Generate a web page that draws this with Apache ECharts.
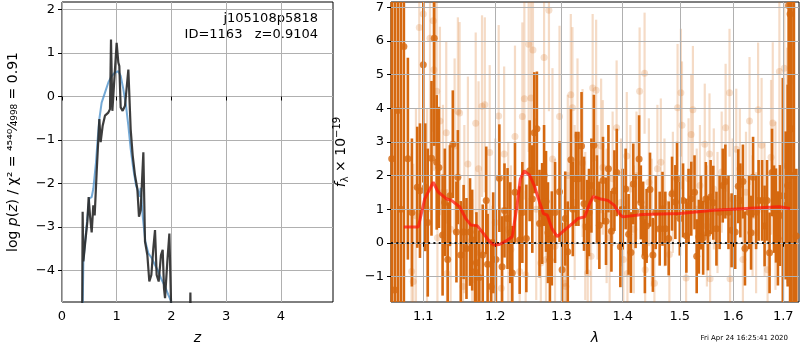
<!DOCTYPE html>
<html lang="en">
<head>
<meta charset="UTF-8">
<title>p(z) / spectrum</title>
<script src="https://cdn.jsdelivr.net/npm/echarts@6/dist/echarts.min.js"></script>
<style>
    html, body { margin: 0; padding: 0; background: #fff; }
    #main { width: 800px; height: 350px; }
</style>
</head>
<body>
<div id="main"></div>
<script type="text/javascript">
// ---- left panel: log p(z)
var zBlack = [0.365, 0.377, 0.390, 0.426, 0.463, 0.487, 0.511, 0.542, 0.572, 0.597, 0.633, 0.682, 0.706, 0.743, 0.785, 0.846, 0.877, 0.895, 0.920, 0.956, 0.998, 1.029, 1.047, 1.072, 1.108, 1.151, 1.212, 1.254, 1.291, 1.333, 1.376, 1.406, 1.437, 1.467, 1.486, 1.516, 1.559, 1.595, 1.632, 1.668, 1.699, 1.729, 1.766, 1.808, 1.839, 1.863, 1.882, 1.924, 1.961, 1.991, 2.0, 2.33, 2.345, 2.36];
var pBlack = [-6, -2.65, -3.79, -3.33, -2.88, -2.31, -2.73, -3.12, -2.50, -2.73, -1.74, -0.52, -1.05, -0.67, -0.44, -0.37, -0.29, 1.31, -0.33, -0.37, 1.23, 0.78, 0.70, -0.25, -0.33, -0.21, 0.62, -0.75, -1.35, -1.81, -2.12, -2.76, -2.61, -2.57, -1.28, -3.33, -3.64, -4.25, -4.10, -3.49, -3.07, -4.10, -4.25, -3.64, -3.52, -4.40, -4.63, -3.79, -3.15, -4.70, -6, -6, -4.50, -6];
var zBlue = [0.365, 0.390, 0.451, 0.499, 0.542, 0.572, 0.621, 0.652, 0.682, 0.724, 0.785, 0.846, 0.907, 0.968, 1.029, 1.072, 1.120, 1.169, 1.212, 1.254, 1.303, 1.352, 1.394, 1.420, 1.437, 1.473, 1.522, 1.577, 1.638, 1.699, 1.760, 1.820, 1.880, 1.940, 1.991, 2.02];
var pBlue = [-6, -3.79, -2.95, -2.34, -2.31, -2.12, -1.51, -0.98, -0.52, -0.14, 0.09, 0.32, 0.47, 0.55, 0.58, 0.47, 0.17, -0.21, -0.67, -1.20, -1.66, -2.04, -2.19, -2.30, -2.10, -2.73, -3.33, -3.60, -3.71, -3.87, -4.02, -4.21, -4.36, -4.55, -4.70, -5.2];
var zTicks = [0, 1, 2, 3, 4];
var pTicks = [-4, -3, -2, -1, 0, 1, 2];

// ---- right panel: spectrum, rows are [lambda, flux, error]
var darkPts = [
    [1.0588, 2.5, 9], [1.0627, -1.4, 9], [1.0666, 3.93, 9], [1.0705, 1.0, 9], [1.0745, 5.83, 9],
    [1.0797, 2.5, 3.0], [1.0850, 0.9, 2.2], [1.0920, 1.65, 1.8], [1.0956, 1.55, 2.0], [1.1000, 5.29, 3.5],
    [1.1027, 1.65, 1.9], [1.1060, 0.6, 2.2], [1.1110, 2.51, 2.3], [1.1147, 6.08, 3.2], [1.1180, 2.39, 2.0],
    [1.1210, 2.24, 1.8], [1.1260, 0.23, 1.8], [1.1290, 1.2, 1.6], [1.1330, -0.5, 1.7], [1.1360, 1.4, 1.5],
    [1.1400, 2.93, 1.6], [1.1450, 0.32, 1.5], [1.1470, 1.95, 1.4], [1.1510, -0.36, 1.6], [1.1550, 0.32, 1.4],
    [1.1590, -0.17, 1.5], [1.1640, 0.32, 1.6], [1.1670, 0.08, 1.5], [1.1710, -0.86, 1.4], [1.1730, -0.59, 1.5],
    [1.1770, -1.03, 1.4], [1.1820, -0.36, 1.5], [1.1870, 1.26, 1.6], [1.1890, -0.64, 1.5], [1.1940, -1.3, 1.4],
    [1.1970, 0.0, 1.5], [1.2010, -0.5, 1.5], [1.2060, 1.92, 1.6], [1.2100, -0.71, 1.5], [1.2135, 0.96, 1.4],
    [1.2180, 0.72, 1.5], [1.2220, 0.3, 1.5], [1.2250, -0.9, 1.4], [1.2290, 1.5, 1.5], [1.2360, 0.08, 1.6],
    [1.2400, 0.9, 1.5], [1.2460, 0.13, 1.6], [1.2510, 2.14, 1.5], [1.2550, 1.3, 1.6], [1.2580, 3.27, 1.8],
    [1.2620, 3.39, 1.7], [1.2660, 0.57, 1.6], [1.2700, 0.87, 1.5], [1.2730, 2.0, 1.5], [1.2760, 1.23, 1.5],
    [1.2790, 0.3, 1.5], [1.2820, -0.51, 1.5], [1.2850, 0.13, 1.4], [1.2900, 0.9, 1.5], [1.2970, 1.52, 1.5],
    [1.3010, -0.8, 1.4], [1.3060, 0.72, 1.4], [1.3100, -0.27, 1.5], [1.3150, 2.47, 1.5], [1.3180, 1.0, 1.4],
    [1.3230, 1.9, 1.4], [1.3270, 1.9, 1.4], [1.3320, 2.88, 1.6], [1.3360, 1.16, 1.4], [1.3410, 0.47, 1.4],
    [1.3440, 0.9, 1.3], [1.3480, 1.7, 1.4], [1.3520, 2.9, 1.5], [1.3570, 1.3, 1.3], [1.3610, 0.52, 1.3],
    [1.3670, 1.85, 1.3], [1.3720, 0.64, 1.3], [1.3760, 2.2, 1.3], [1.3810, 0.34, 1.2], [1.3860, 1.55, 1.2],
    [1.3900, 2.09, 1.3], [1.3960, -0.12, 1.2], [1.4000, 1.0, 1.2], [1.4050, 1.6, 1.2], [1.4100, 0.25, 1.2],
    [1.4140, -0.29, 1.2], [1.4180, 1.75, 1.2], [1.4220, 0.94, 1.1], [1.4280, 2.49, 1.3], [1.4310, 1.2, 1.1],
    [1.4350, 0.72, 1.1], [1.4380, -0.4, 1.1], [1.4410, 0.5, 1.1], [1.4470, 1.58, 1.1], [1.4520, -0.36, 1.1],
    [1.4570, 0.91, 1.1], [1.4640, 0.42, 1.1], [1.4690, 1.01, 1.1], [1.4740, 0.42, 1.1], [1.4800, 0.13, 1.1],
    [1.4860, 1.46, 1.1], [1.4920, 1.21, 1.1], [1.4950, 1.9, 1.1], [1.5000, 0.72, 1.1], [1.5060, 1.26, 1.1],
    [1.5120, 0.21, 1.1], [1.5160, 1.1, 1.1], [1.5210, 1.31, 1.1], [1.5270, 1.5, 1.1], [1.5310, -0.4, 1.1],
    [1.5350, 0.18, 1.1], [1.5390, 0.9, 1.1], [1.5430, 0.15, 1.1], [1.5480, 1.3, 1.1], [1.5520, 0.28, 1.1],
    [1.5570, 1.36, 1.1], [1.5620, 1.19, 1.1], [1.5680, 0.42, 1.1], [1.5740, 0.91, 1.1], [1.5800, 1.7, 1.1],
    [1.5850, 1.82, 1.1], [1.5910, 0.91, 1.1], [1.5970, 0.37, 1.1], [1.6040, 0.32, 1.1], [1.6100, 1.68, 1.1],
    [1.6140, 1.26, 1.1], [1.6190, 1.82, 1.1], [1.6230, -0.17, 1.1], [1.6310, 0.91, 1.1], [1.6350, 0.3, 1.1],
    [1.6390, 1.95, 1.2], [1.6450, 0.91, 1.1], [1.6500, 1.26, 1.2], [1.6570, 1.26, 1.2], [1.6620, 0.5, 1.2],
    [1.6670, 1.26, 1.2], [1.6720, -0.3, 1.2], [1.6770, 2.09, 1.3], [1.6810, 1.0, 1.3], [1.6850, 0.81, 1.4],
    [1.6890, 0.13, 1.4], [1.6930, 0.81, 1.5], [1.6990, 1.4, 3.5], [1.7050, 1.11, 2.2], [1.7090, 1.7, 3.0],
    [1.7110, 7.05, 5], [1.7140, 6.8, 9], [1.7170, 3.39, 9], [1.7220, 2.0, 9], [1.7270, 0.2, 2.0]
];
var lightPts = [
    [1.0846, -0.85, 3.5], [1.0868, -1.15, 3.5], [1.0903, 0.8, 3.2], [1.0947, 6.4, 3.5], [1.1000, 6.8, 3.5],
    [1.1050, 1.0, 3.0], [1.1090, 6.08, 3.5], [1.1133, 6.6, 3.3], [1.1142, 5.14, 3.0], [1.1180, 4.5, 3.0],
    [1.1190, 0.15, 2.6], [1.1224, 3.62, 2.8], [1.1265, 1.5, 2.6], [1.1310, 3.27, 2.7], [1.1320, -0.91, 2.5],
    [1.1370, 0.4, 2.5], [1.1425, 2.88, 2.6], [1.1470, 3.9, 2.8], [1.1494, 3.86, 2.7], [1.1540, -1.3, 2.5],
    [1.1560, 1.0, 2.5], [1.1610, 2.34, 2.6], [1.1670, -1.1, 2.4], [1.1720, 3.55, 2.7], [1.1760, 2.2, 2.6],
    [1.1780, -0.3, 2.4], [1.1810, 4.06, 2.7], [1.1850, 4.1, 2.6], [1.1920, 2.68, 2.6], [1.1960, -1.4, 2.5],
    [1.2000, 0.6, 2.5], [1.2050, 3.77, 2.7], [1.2090, -1.35, 2.4], [1.2130, 2.64, 2.6], [1.2190, 0.4, 2.6],
    [1.2230, -0.2, 2.5], [1.2290, 3.16, 2.7], [1.2360, -0.85, 2.5], [1.2400, 3.75, 2.8], [1.2430, 4.28, 3.0],
    [1.2450, -0.95, 2.5], [1.2495, 5.9, 3.2], [1.2530, 4.3, 3.0], [1.2560, 5.73, 3.0], [1.2610, 1.0, 2.7],
    [1.2680, -0.6, 2.7], [1.2730, 5.51, 3.0], [1.2760, -0.5, 2.6], [1.2805, 6.91, 3.0], [1.2860, 2.49, 2.7],
    [1.2900, -0.1, 2.6], [1.2970, 3.75, 2.7], [1.3050, -1.2, 2.6], [1.3070, -1.3, 2.5], [1.3100, 2.0, 2.4],
    [1.3148, 4.4, 2.4], [1.3174, 4.01, 2.4], [1.3210, 1.2, 2.3], [1.3255, 3.18, 2.3], [1.3336, 2.37, 2.2],
    [1.3380, 0.5, 2.2], [1.3420, -0.9, 2.1], [1.3474, -0.4, 2.1], [1.3500, 4.6, 2.2], [1.3557, 4.53, 2.1],
    [1.3580, 1.5, 2.0], [1.3639, 2.88, 2.0], [1.3667, 2.24, 2.0], [1.3730, 0.8, 2.0], [1.3780, 0.15, 2.0],
    [1.3830, 1.9, 2.0], [1.3897, 3.42, 2.0], [1.3970, 1.2, 1.9], [1.4010, -0.5, 1.9], [1.4069, 2.58, 1.9],
    [1.4080, -0.91, 1.9], [1.4130, 1.6, 1.9], [1.4190, 0.4, 1.9], [1.4235, 2.0, 1.9], [1.4289, 4.5, 1.9],
    [1.4375, 5.04, 1.8], [1.4385, -0.8, 1.9], [1.4450, 1.8, 1.9], [1.4500, 0.6, 1.9], [1.4547, -1.2, 1.9],
    [1.4600, 2.2, 1.9], [1.4660, 2.39, 1.9], [1.4725, 1.2, 1.9], [1.4813, -0.35, 1.8], [1.4875, 1.5, 1.8],
    [1.4960, 4.01, 1.9], [1.5020, 4.46, 1.9], [1.5040, 3.49, 1.9], [1.5115, -1.05, 1.8], [1.5160, 1.9, 1.8],
    [1.5208, 3.22, 1.8], [1.5240, 3.95, 1.9], [1.5310, 1.0, 1.8], [1.5370, 1.7, 1.8], [1.5460, 2.93, 1.8],
    [1.5500, 0.5, 1.8], [1.5549, 2.64, 1.8], [1.5560, -1.07, 1.8], [1.5630, 1.6, 1.8], [1.5700, 0.9, 1.8],
    [1.5780, 2.1, 1.8], [1.5855, 3.42, 1.9], [1.5930, 4.46, 1.9], [1.5940, -1.07, 1.8], [1.5990, 1.3, 1.8],
    [1.6060, 2.78, 1.8], [1.6130, 2.2, 1.8], [1.6190, -0.5, 1.8], [1.6250, 1.5, 1.8], [1.6320, 3.62, 1.9],
    [1.6380, 0.8, 1.8], [1.6450, 0.3, 1.8], [1.6490, 3.95, 2.0], [1.6560, 2.9, 2.0], [1.6620, 1.0, 2.0],
    [1.6680, -0.8, 2.1], [1.6750, 2.54, 2.3], [1.6785, 3.56, 2.4], [1.6840, 1.1, 2.5], [1.6920, 5.09, 2.8],
    [1.7020, 5.19, 3.0], [1.7080, 2.3, 3.5], [1.7150, 4.8, 4.0]
];
var modelLam = [1.0746, 1.0934, 1.1020, 1.1133, 1.1200, 1.1310, 1.1380, 1.1494, 1.1580, 1.1650, 1.1740, 1.1810, 1.1920, 1.1980, 1.2060, 1.2180, 1.2250, 1.2320, 1.2370, 1.2430, 1.2510, 1.2580, 1.2660, 1.2720, 1.2780, 1.2850, 1.2935, 1.3020, 1.3160, 1.3260, 1.3370, 1.3450, 1.3510, 1.3610, 1.3750, 1.3860, 1.3940, 1.4000, 1.4340, 1.5000, 1.5620, 1.6250, 1.6920, 1.7140];
var modelFlux = [0.47, 0.47, 1.31, 1.80, 1.51, 1.31, 1.26, 1.07, 0.72, 0.53, 0.51, 0.33, 0.03, -0.07, -0.05, 0.08, 0.18, 1.11, 1.90, 2.14, 2.00, 1.70, 1.21, 0.87, 0.82, 0.43, 0.18, 0.33, 0.55, 0.72, 0.77, 1.16, 1.38, 1.31, 1.26, 1.11, 0.87, 0.77, 0.84, 0.87, 0.97, 1.02, 1.07, 1.02];
var lamTicks = [1.1, 1.2, 1.3, 1.4, 1.5, 1.6, 1.7];
var fTicks = [-1, 0, 1, 2, 3, 4, 5, 6, 7];

var lamMin = 1.0579, lamMax = 1.7326;
var fMin = -1.76, fMax = 7.156;

var orange = '#d5680f';
var orangeLight = 'rgba(214,106,18,0.24)';
var font = 'DejaVu Sans';

function pairs(xs, ys, fx) {
    return xs.map(function (x, i) { return [fx ? fx(x) : x, ys[i]]; });
}
function toLog(rows) {
    return rows.map(function (r) { return [Math.log(r[0]), r[1], r[2]]; });
}
function minusSign(v) { return String(v).replace('-', '\u2212'); }

// vertical error bars drawn through the axis scales
function errBar(color, width) {
    return function (params, api) {
        var x = api.value(0);
        var lo = Math.max(api.value(1) - api.value(2), fMin);
        var hi = Math.min(api.value(1) + api.value(2), fMax);
        var p1 = api.coord([x, lo]);
        var p2 = api.coord([x, hi]);
        return {
            type: 'line',
            shape: { x1: p1[0], y1: p1[1], x2: p2[0], y2: p2[1] },
            style: { stroke: color, lineWidth: width }
        };
    };
}

var darkLog = toLog(darkPts);
var lightLog = toLog(lightPts);
var logTicks = lamTicks.map(Math.log);

var axisLabelStyle = { color: '#000', fontSize: 13, fontFamily: font };

var myChart = echarts.init(document.getElementById('main'));
var option = {
    animation: false,
    backgroundColor: '#fff',
    grid: [
        { left: 62, top: 2, width: 271, height: 302, show: true, borderColor: '#000', borderWidth: 1, backgroundColor: 'transparent' },
        { left: 391, top: 2, width: 408, height: 302, show: true, borderColor: '#000', borderWidth: 1, backgroundColor: 'transparent' }
    ],
    xAxis: [
        {
            type: 'value', gridIndex: 0, min: 0, max: 4.95,
            name: 'z', nameLocation: 'middle', nameGap: 29,
            nameTextStyle: { fontSize: 14, fontStyle: 'italic', fontFamily: font, color: '#000' },
            axisLine: { show: false },
            axisTick: { show: true, length: 4, lineStyle: { color: '#000' }, customValues: zTicks },
            axisLabel: Object.assign({ margin: 8, customValues: zTicks }, axisLabelStyle),
            splitLine: { show: true, lineStyle: { color: '#b0b0b0', width: 1 } }
        },
        {
            type: 'value', gridIndex: 1, min: Math.log(lamMin), max: Math.log(lamMax), z: 3,
            name: 'λ', nameLocation: 'middle', nameGap: 29,
            nameTextStyle: { fontSize: 14, fontStyle: 'italic', fontFamily: font, color: '#000' },
            axisLine: { show: false },
            axisTick: { show: true, length: 4, lineStyle: { color: '#000' }, customValues: logTicks },
            axisLabel: Object.assign({
                margin: 8, customValues: logTicks,
                formatter: function (v) { return Math.exp(v).toFixed(1); }
            }, axisLabelStyle),
            splitLine: { show: true, lineStyle: { color: '#b0b0b0', width: 1 } }
        }
    ],
    yAxis: [
        {
            type: 'value', gridIndex: 0, min: -4.72, max: 2.17,
            name: 'log {i|p}({i|z}) / χ² = {f|⁴⁵⁴⁰⁄₄₉₉₈} = 0.91',
            nameLocation: 'middle', nameGap: 42,
            nameTextStyle: {
                fontSize: 14, fontFamily: font, color: '#000',
                rich: {
                    i: { fontSize: 14, fontStyle: 'italic', fontFamily: font, color: '#000' },
                    f: { fontSize: 14, fontFamily: font, color: '#000' }
                }
            },
            axisLine: { show: false },
            axisTick: { show: true, length: 4, lineStyle: { color: '#000' }, customValues: pTicks },
            axisLabel: Object.assign({ margin: 7, customValues: pTicks, formatter: minusSign }, axisLabelStyle),
            splitLine: { show: true, lineStyle: { color: '#b0b0b0', width: 1 } }
        },
        {
            type: 'value', gridIndex: 1, min: fMin, max: fMax, z: 3,
            name: '{i|f}{s|λ} × 10{u|−19}',
            nameLocation: 'middle', nameGap: 41,
            nameTextStyle: {
                fontSize: 14, fontFamily: font, color: '#000',
                rich: {
                    i: { fontSize: 14, fontStyle: 'italic', fontFamily: font, color: '#000' },
                    s: { fontSize: 10, fontFamily: font, color: '#000', padding: [8, 0, 0, 0] },
                    u: { fontSize: 10, fontFamily: font, color: '#000', padding: [0, 0, 8, 0] }
                }
            },
            axisLine: { show: false },
            axisTick: { show: true, length: 4, lineStyle: { color: '#000' }, customValues: fTicks },
            axisLabel: Object.assign({ margin: 7, customValues: fTicks, formatter: minusSign }, axisLabelStyle),
            splitLine: { show: true, lineStyle: { color: '#b0b0b0', width: 1 } }
        }
    ],
    graphic: [
        {
            type: 'text', right: 482, top: 11,
            style: {
                text: 'j105108p5818\nID=1163   z=0.9104', textAlign: 'right',
                fontSize: 13, lineHeight: 16, fontFamily: font, fill: '#000'
            }
        },
        {
            type: 'text', right: 12, top: 335,
            style: { text: 'Fri Apr 24 16:25:41 2020', fontSize: 7, fontFamily: font, fill: '#000' }
        }
    ],
    series: [
        {
            type: 'line', xAxisIndex: 0, yAxisIndex: 0, data: pairs(zBlue, pBlue),
            showSymbol: false, symbol: 'none', z: 2,
            lineStyle: { color: 'rgba(70,140,200,0.75)', width: 2 }
        },
        {
            type: 'line', xAxisIndex: 0, yAxisIndex: 0, data: pairs(zBlack, pBlack),
            showSymbol: false, symbol: 'none', z: 3,
            lineStyle: { color: 'rgba(40,40,40,0.9)', width: 2.2 }
        },
        {
            type: 'custom', xAxisIndex: 1, yAxisIndex: 1, data: lightLog, z: 1,
            renderItem: errBar(orangeLight, 2.2), encode: { x: 0, y: 1 }
        },
        {
            type: 'scatter', xAxisIndex: 1, yAxisIndex: 1, z: 1,
            data: lightLog.map(function (r) { return [r[0], r[1]]; }),
            symbolSize: 7, itemStyle: { color: 'rgba(214,106,18,0.26)' }
        },
        {
            type: 'custom', xAxisIndex: 1, yAxisIndex: 1, data: darkLog, z: 2,
            renderItem: errBar(orange, 2.6), encode: { x: 0, y: 1 }
        },
        {
            type: 'scatter', xAxisIndex: 1, yAxisIndex: 1, z: 2,
            data: darkLog.map(function (r) { return [r[0], r[1]]; }),
            symbolSize: 7, itemStyle: { color: orange }
        },
        {
            type: 'line', xAxisIndex: 1, yAxisIndex: 1, z: 5,
            data: pairs(modelLam, modelFlux, Math.log),
            showSymbol: false, symbol: 'none',
            lineStyle: { color: 'rgba(255,20,10,0.72)', width: 3 },
            markLine: {
                silent: true, symbol: 'none', label: { show: false },
                lineStyle: { color: '#111', width: 2, type: [2, 3.3], opacity: 1 },
                data: [{ yAxis: 0 }]
            }
        }
    ]
};
myChart.setOption(option);
</script>
</body>
</html>
